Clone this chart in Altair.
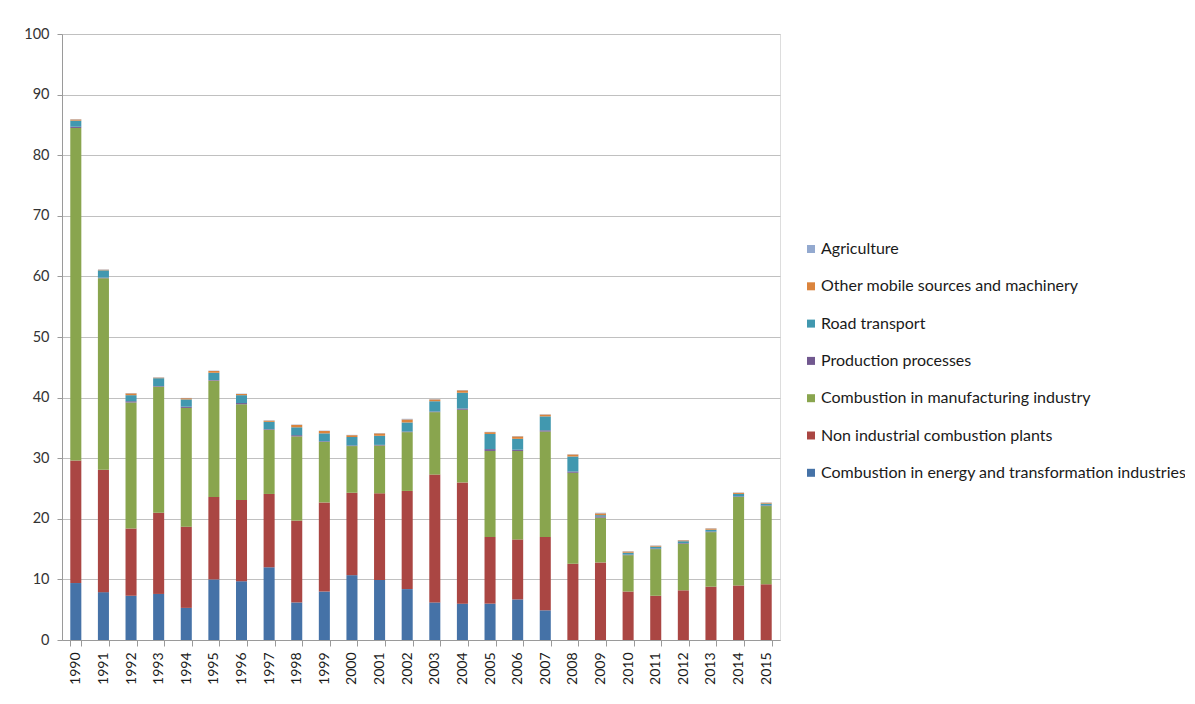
import altair as alt
import pandas as pd

years = [str(y) for y in range(1990, 2016)]

series_names = [
    "Combustion in energy and transformation industries",
    "Non industrial combustion plants",
    "Combustion in manufacturing industry",
    "Production processes",
    "Road transport",
    "Other mobile sources and machinery",
    "Agriculture",
]
colors = ["#4572A7", "#AA4643", "#89A54E", "#71588F", "#4198AF", "#DB843D", "#93A9CF"]

energy = [9.4, 7.9, 7.3, 7.6, 5.3, 10.0, 9.7, 12.0, 6.2, 8.0, 10.7, 9.9, 8.4,
          6.2, 6.0, 6.0, 6.7, 4.9, 0, 0, 0, 0, 0, 0, 0, 0]
non_industrial = [20.2, 20.2, 11.1, 13.4, 13.4, 13.6, 13.4, 12.1, 13.5, 14.7, 13.6, 14.3, 16.2,
                  21.1, 20.0, 11.0, 9.9, 12.1, 12.6, 12.8, 8.0, 7.3, 8.2, 8.8, 9.0, 9.2]
manufacturing = [54.9, 31.6, 20.8, 20.8, 19.6, 19.2, 15.8, 10.6, 13.9, 10.0, 7.7, 7.9, 9.7,
                 10.3, 12.0, 14.2, 14.6, 17.4, 15.0, 7.4, 6.0, 7.7, 7.7, 9.0, 14.6, 12.9]
production = [0.2, 0.1, 0.2, 0.1, 0.2, 0.1, 0.2, 0.1, 0.2, 0.1, 0.1, 0.1, 0.1,
              0.1, 0.2, 0.3, 0.2, 0.2, 0.2, 0.2, 0.1, 0.1, 0.1, 0.1, 0.1, 0.1]
road = [1.0, 1.2, 1.0, 1.3, 1.2, 1.2, 1.3, 1.2, 1.3, 1.3, 1.4, 1.5, 1.5,
        1.7, 2.6, 2.5, 1.8, 2.3, 2.5, 0.2, 0.3, 0.3, 0.3, 0.3, 0.4, 0.3]
other_mobile = [0.2, 0.1, 0.3, 0.1, 0.2, 0.3, 0.2, 0.2, 0.4, 0.4, 0.3, 0.4, 0.5,
                0.3, 0.4, 0.3, 0.4, 0.3, 0.3, 0.3, 0.2, 0.15, 0.15, 0.2, 0.2, 0.15]
agriculture = [0.05] * 12 + [0.1] + [0.05] * 6 + [0.1] + [0.05] * 6

all_series = [energy, non_industrial, manufacturing, production, road, other_mobile, agriculture]

rows = []
for si, (name, vals) in enumerate(zip(series_names, all_series)):
    for y, v in zip(years, vals):
        rows.append({"year": y, "series": name, "value": v, "order": si})
df = pd.DataFrame(rows)

legend_order = list(reversed(series_names))
legend_colors = list(reversed(colors))

FONT = "Lato"

chart = alt.Chart(df).mark_bar().encode(
    x=alt.X("year:N", sort=years, title=None,
            scale=alt.Scale(paddingInner=0.6, paddingOuter=0.3),
            axis=alt.Axis(labelAngle=-90, labelFontSize=14, labelColor="#1a1a1a",
                          labelFont=FONT, labelPadding=6, tickBand="extent",
                          tickSize=6, tickColor="#9a9a9a", domainColor="#9a9a9a",
                          grid=False, labelAlign="right", labelBaseline="middle")),
    y=alt.Y("value:Q", title=None,
            scale=alt.Scale(domain=[0, 100]),
            axis=alt.Axis(values=list(range(0, 101, 10)), labelFontSize=14.5,
                          labelColor="#333333", labelFont=FONT, tickSize=5,
                          tickColor="#9a9a9a", domainColor="#9a9a9a",
                          gridColor="#c0c0c0", gridWidth=1.2, labelPadding=8)),
    color=alt.Color("series:N",
                    scale=alt.Scale(domain=legend_order, range=legend_colors),
                    legend=alt.Legend(title=None, orient="none", legendX=741, legendY=207,
                                      symbolType="square", symbolSize=64,
                                      symbolStrokeWidth=0, labelFontSize=16,
                                      labelFont=FONT, labelColor="#1a1a1a",
                                      rowPadding=21.3, labelLimit=500, labelOffset=2)),
    order=alt.Order("order:Q", sort="ascending"),
).properties(
    width=718, height=606,
    autosize=alt.AutoSizeParams(type="none"),
    padding={"left": 54, "top": 26, "right": 405, "bottom": 56},
).configure_view(stroke=None).configure(background="white")

chart.save("out.html", embed_options={"renderer": "svg", "actions": False})
